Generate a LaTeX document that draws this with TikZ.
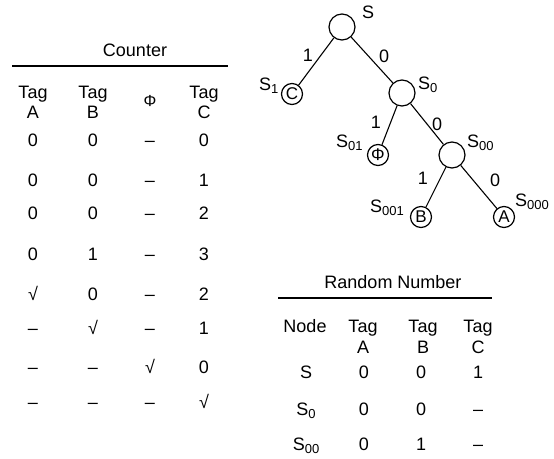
\documentclass[tikz,border=0pt]{standalone}
\usepackage{fontspec}
\setmainfont{Liberation Sans}
\newcommand\sbs[1]{\raisebox{-0.32ex}{\fontsize{13}{14}\selectfont #1}}
\begin{document}
\begin{tikzpicture}[x=1pt,y=-1pt,
  txt/.style={inner sep=0pt,anchor=base,font=\fontsize{18}{21}\selectfont},
  lbl/.style={inner sep=0pt,anchor=base west,font=\fontsize{18}{21}\selectfont},
  big/.style={circle,draw,line width=1.2pt,minimum size=26pt,inner sep=0pt},
  leaf/.style={circle,draw,line width=1.2pt,minimum size=21pt,inner sep=0pt,font=\fontsize{17}{19}\selectfont},
  edge/.style={line width=1.1pt},
  elab/.style={inner sep=0pt,font=\fontsize{18}{21}\selectfont},
  rulel/.style={line width=1.4pt}]
\useasboundingbox (0,0) rectangle (554,458);
% ---------- Counter table ----------
\node[txt] (ctitle) at (135,56) {Counter};
\coordinate (cr1) at (12,66);
\coordinate (cr2) at (228,66);
\draw[rulel] (cr1) -- (cr2);
\foreach \x/\l/\n in {33/A/a,93/B/b,204/C/c}{
  \node[txt] (ctag\n) at (\x,98) {Tag};
  \node[txt] (clet\n) at (\x,118) {\l};
}
\node[inner sep=0pt,font=\fontsize{16}{18}\selectfont] (cphi) at (150,101) {Φ};
\foreach \y [count=\r] /\a/\b/\p/\c in {146/0/0/–/0,186/0/0/–/1,219/0/0/–/2,260/0/1/–/3,300/√/0/–/2,334/–/√/–/1,373/–/–/√/0,408/–/–/–/√}{
  \node[txt] (ca\r) at (33,\y) {\a};
  \node[txt] (cb\r) at (93,\y) {\b};
  \node[txt] (cp\r) at (150,\y) {\p};
  \node[txt] (cc\r) at (204,\y) {\c};
}
% ---------- Tree ----------
\node[big] (S) at (342,27) {};
\node[leaf] (C) at (292,94) {C};
\node[big] (S0) at (402,93) {};
\node[leaf] (PHI) at (378,155) {Φ};
\node[big] (S00) at (452,155) {};
\node[leaf] (B) at (421,217) {B};
\node[leaf] (A) at (504,217) {A};
\draw[edge] (S) -- (C);
\draw[edge] (S) -- (S0);
\draw[edge] (S0) -- (PHI);
\draw[edge] (S0) -- (S00);
\draw[edge] (S00) -- (B);
\draw[edge] (S00) -- (A);
\node[elab] (e1) at (308,55) {1};
\node[elab] (e2) at (384,56) {0};
\node[elab] (e3) at (376,122) {1};
\node[elab] (e4) at (437,124) {0};
\node[elab] (e5) at (423,178) {1};
\node[elab] (e6) at (495,180) {0};
\node[lbl] (lS) at (362,18) {S};
\node[lbl] (lS1) at (259,90) {S\sbs{1}};
\node[lbl] (lS0) at (418,89) {S\sbs{0}};
\node[lbl] (lS01) at (336,147) {S\sbs{01}};
\node[lbl] (lS00) at (467,147) {S\sbs{00}};
\node[lbl] (lS001) at (370,212) {S\sbs{001}};
\node[lbl] (lS000) at (515,206) {S\sbs{000}};
% ---------- Random Number table ----------
\node[txt] (rtitle) at (393,288) {Random Number};
\coordinate (rr1) at (278,298);
\coordinate (rr2) at (492,298);
\draw[rulel] (rr1) -- (rr2);
\node[txt] (rnode) at (305,332) {Node};
\foreach \x/\l/\n in {363/A/a,423/B/b,478/C/c}{
  \node[txt] (rtag\n) at (\x,332) {Tag};
  \node[txt] (rlet\n) at (\x,353) {\l};
}
\foreach \y [count=\r] /\s/\a/\b/\c in {378/S/0/0/1,415/S\sbs{0}/0/0/–,450/S\sbs{00}/0/1/–}{
  \node[txt] (rs\r) at (306,\y) {\s};
  \node[txt] (ra\r) at (364,\y) {\a};
  \node[txt] (rb\r) at (421,\y) {\b};
  \node[txt] (rc\r) at (478,\y) {\c};
}
\end{tikzpicture}
\end{document}
